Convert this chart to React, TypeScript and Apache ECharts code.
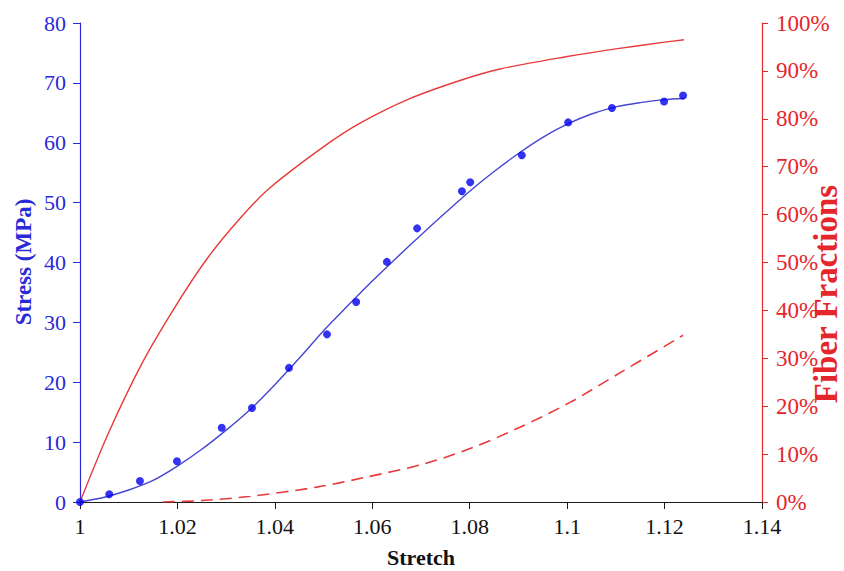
import React, { useEffect, useRef } from "react";
import * as echarts from "echarts";

// Measured stress points
const pointStretch = [1.0, 1.006, 1.0123, 1.0199, 1.0291, 1.0353, 1.0429, 1.0507, 1.0567, 1.063, 1.0692, 1.0784, 1.0801, 1.0907, 1.1002, 1.1092, 1.1199, 1.1238];
const pointStress = [0, 1.3, 3.5, 6.8, 12.4, 15.7, 22.4, 28.0, 33.4, 40.1, 45.7, 51.9, 53.4, 57.9, 63.4, 65.8, 66.9, 67.9];

// Model fit (stress)
const fitStretch = [1.0, 1.005, 1.01, 1.015, 1.02, 1.025, 1.03, 1.035, 1.04, 1.045, 1.05, 1.055, 1.06, 1.065, 1.07, 1.075, 1.08, 1.085, 1.09, 1.095, 1.1, 1.105, 1.11, 1.115, 1.12, 1.124];
const fitStress = [0, 0.8, 2.0, 3.6, 6.0, 8.8, 12.0, 15.5, 19.6, 24.0, 28.6, 32.8, 36.9, 40.8, 44.6, 48.3, 51.9, 55.2, 58.2, 60.9, 63.1, 64.8, 66.0, 66.7, 67.2, 67.4];

// Fiber fraction (solid)
const solidStretch = [1.0, 1.0058, 1.0127, 1.0195, 1.0263, 1.0332, 1.039, 1.0506, 1.0575, 1.0677, 1.078, 1.0862, 1.1, 1.11, 1.12, 1.124];
const solidFraction = [0, 14.3, 28.9, 40.7, 51.1, 59.6, 65.6, 74.6, 79.1, 84.2, 88.0, 90.4, 93.0, 94.6, 96.0, 96.5];

// Fiber fraction (dashed)
const dashStretch = [1.017, 1.025, 1.035, 1.0486, 1.0588, 1.0708, 1.0807, 1.0903, 1.1006, 1.1109, 1.1238];
const dashFraction = [0, 0.3, 1.2, 3.1, 5.2, 8.0, 11.4, 15.6, 20.8, 27.0, 34.8];

const xTitle = "Stretch";
const yLeftTitle = "Stress (MPa)";
const yRightTitle = "Fiber Fractions";

const BLUE = "#2a2ad8";
const RED = "#e5262b";
const FONT = "'Liberation Serif', 'Times New Roman', serif";

const zip = (a: number[], b: number[]) => a.map((v, i) => [v, b[i]]);

export default function App() {
  const ref = useRef<HTMLDivElement>(null);
  useEffect(() => {
    document.body.style.margin = "0";
    if (!ref.current) return;
    const chart = echarts.init(ref.current, undefined, { renderer: "svg" });
    chart.setOption({
      animation: false,
      backgroundColor: "#ffffff",
      grid: { left: 80, right: 82, top: 23, bottom: 69, containLabel: false },
      xAxis: {
        type: "value",
        min: 1,
        max: 1.14,
        interval: 0.02,
        axisLine: { onZero: false, lineStyle: { color: "#1a1a1a", width: 1.2 } },
        axisTick: { show: true, length: 7, inside: false, lineStyle: { color: "#1a1a1a" } },
        splitLine: { show: false },
        axisLabel: {
          color: "#111",
          fontFamily: FONT,
          fontSize: 22,
          margin: 13,
          formatter: (v: number) => String(+v.toFixed(2)),
        },
      },
      yAxis: [
        {
          type: "value",
          min: 0,
          max: 80,
          interval: 10,
          position: "left",
          axisLine: { show: true, lineStyle: { color: BLUE, width: 1.2 } },
          axisTick: { show: true, length: 7, lineStyle: { color: BLUE } },
          splitLine: { show: false },
          axisLabel: { color: BLUE, fontFamily: FONT, fontSize: 22, margin: 14 },
        },
        {
          type: "value",
          min: 0,
          max: 100,
          interval: 10,
          position: "right",
          axisLine: { show: true, lineStyle: { color: RED, width: 1.2 } },
          axisTick: { show: true, length: 6, lineStyle: { color: RED } },
          splitLine: { show: false },
          axisLabel: {
            color: RED,
            fontFamily: FONT,
            fontSize: 23,
            margin: 14,
            formatter: (v: number) => v + "%",
          },
        },
      ],
      graphic: [
        {
          type: "text",
          x: 421,
          y: 557,
          style: {
            text: xTitle,
            fill: "#111",
            font: "bold 22px " + FONT,
            textAlign: "center",
            textVerticalAlign: "middle",
          },
        },
        {
          type: "text",
          x: 23,
          y: 262,
          rotation: Math.PI / 2,
          style: {
            text: yLeftTitle,
            fill: BLUE,
            font: "bold 23px " + FONT,
            textAlign: "center",
            textVerticalAlign: "middle",
          },
        },
        {
          type: "text",
          x: 826,
          y: 294,
          rotation: Math.PI / 2,
          style: {
            text: yRightTitle,
            fill: RED,
            font: "bold 33px " + FONT,
            textAlign: "center",
            textVerticalAlign: "middle",
          },
        },
      ],
      series: [
        {
          name: "Fiber fraction",
          type: "line",
          yAxisIndex: 1,
          data: zip(solidStretch, solidFraction),
          smooth: 0.3,
          showSymbol: false,
          lineStyle: { color: "#e83a3a", width: 1.4 },
          z: 2,
        },
        {
          name: "Fiber fraction (dashed)",
          type: "line",
          yAxisIndex: 1,
          data: zip(dashStretch, dashFraction),
          smooth: 0.3,
          showSymbol: false,
          lineStyle: { color: "#e83a3a", width: 1.6, type: [12, 7] },
          z: 2,
        },
        {
          name: "Fit",
          type: "line",
          yAxisIndex: 0,
          data: zip(fitStretch, fitStress),
          smooth: 0.3,
          showSymbol: false,
          lineStyle: { color: "#4646d2", width: 1.4 },
          z: 3,
        },
        {
          name: "Measured",
          type: "scatter",
          yAxisIndex: 0,
          data: zip(pointStretch, pointStress),
          symbol: "circle",
          symbolSize: 8,
          itemStyle: { color: "#0000ee" },
          z: 4,
        },
      ],
    });
    return () => chart.dispose();
  }, []);
  return <div ref={ref} style={{ width: 844, height: 571 }} />;
}
